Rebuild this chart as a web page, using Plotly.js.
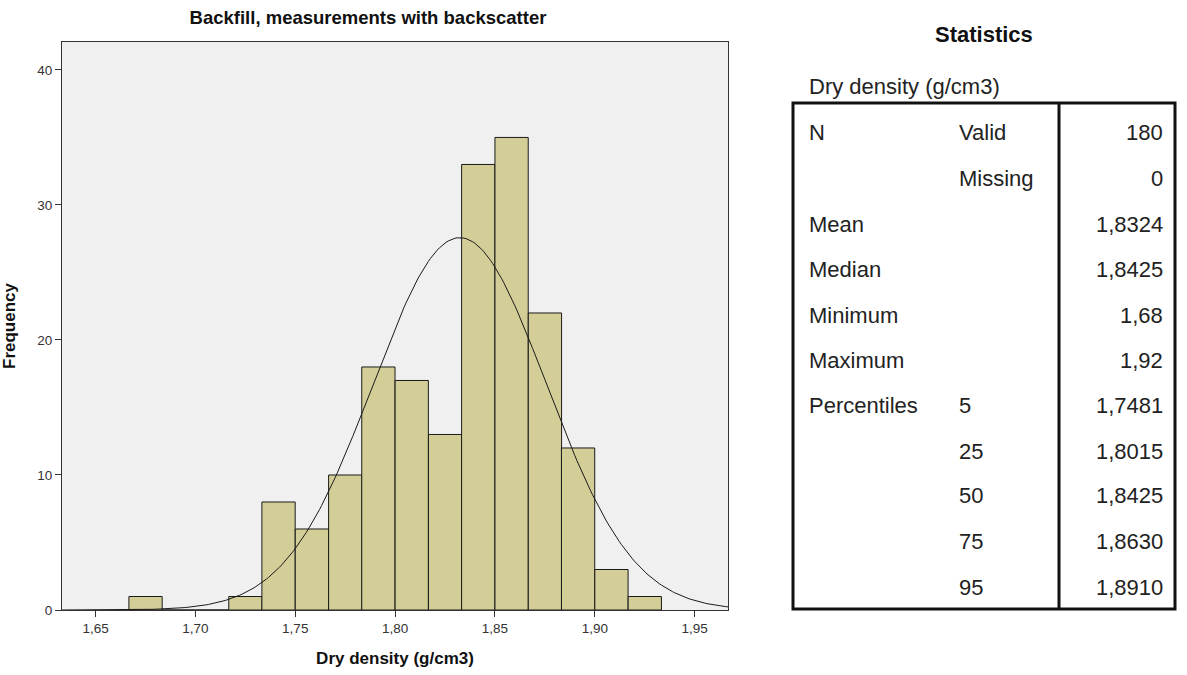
<!DOCTYPE html>
<html>
<head>
<meta charset="utf-8">
<script src="https://cdn.plot.ly/plotly-3.0.1.min.js"></script>
<style>
  html, body { margin: 0; padding: 0; background: #ffffff; }
  #chart { width: 1187px; height: 675px; }
</style>
</head>
<body>
<div id="chart"></div>
<script>
// Histogram bins of dry density (lower edge of each bin, g/cm3) and their counts
const binLower = [1.6667, 1.6833, 1.7000, 1.7167, 1.7333, 1.7500, 1.7667, 1.7833,
                  1.8000, 1.8167, 1.8333, 1.8500, 1.8667, 1.8833, 1.9000, 1.9167];
const binCounts = [1, 0, 0, 1, 8, 6, 10, 18, 17, 13, 33, 35, 22, 12, 3, 1];
const binWidth = 0.016667;

// Fitted normal curve parameters
const sampleN = 180;
const sampleMean = 1.8324;
const sampleSD = 0.0434;

// Axis ticks
const xTicks = [1.65, 1.70, 1.75, 1.80, 1.85, 1.90, 1.95];
const yTicks = [0, 10, 20, 30, 40];

// Statistics table contents
const statTitle = "Statistics";
const statVariable = "Dry density (g/cm3)";
const statLabels = ["N", "", "Mean", "Median", "Minimum", "Maximum", "Percentiles", "", "", "", ""];
const statSubLabels = ["Valid", "Missing", "", "", "", "", "5", "25", "50", "75", "95"];
const statValues = ["180", "0", "1,8324", "1,8425", "1,68", "1,92", "1,7481", "1,8015", "1,8425", "1,8630", "1,8910"];

// Layout geometry (pixels)
const W = 1187, H = 675;
const M = { l: 62, r: 459, t: 42, b: 65 };
const plotW = W - M.l - M.r, plotH = H - M.t - M.b;
const px = x => (x - M.l) / plotW;          // page x -> paper x
const py = y => (H - M.b - y) / plotH;      // page y -> paper y

const xRange = [1.6332, 1.9667];
const yRange = [0, 42.07];

// Normal density scaled to histogram counts
const curveX = [], curveY = [];
const steps = 300;
for (let i = 0; i <= steps; i++) {
  const x = xRange[0] + (xRange[1] - xRange[0]) * i / steps;
  const z = (x - sampleMean) / sampleSD;
  curveX.push(x);
  curveY.push(sampleN * binWidth * Math.exp(-0.5 * z * z) / (sampleSD * Math.sqrt(2 * Math.PI)));
}

const bars = {
  type: 'bar',
  x: binLower.map(v => v + binWidth / 2),
  y: binCounts,
  width: binWidth,
  marker: { color: '#d3ce97', line: { color: '#1a1a1a', width: 1 } },
  hoverinfo: 'x+y',
  showlegend: false
};

const curve = {
  type: 'scatter',
  mode: 'lines',
  x: curveX,
  y: curveY,
  line: { color: '#1a1a1a', width: 1 },
  hoverinfo: 'skip',
  showlegend: false
};

// Table drawing
const FAMILY = '"Liberation Sans", Arial, sans-serif';
const tableFont = { family: FAMILY, size: 22, color: '#222222' };
const rowY = [133, 179, 224, 269, 315, 360, 405, 451, 496, 541, 587];
const annotations = [];
const shapes = [];

annotations.push({
  xref: 'paper', yref: 'paper', x: px(984), y: py(34), xanchor: 'center', yanchor: 'middle',
  text: '<b>' + statTitle + '</b>', showarrow: false,
  font: { family: FAMILY, size: 22, color: '#111111' }
});
annotations.push({
  xref: 'paper', yref: 'paper', x: px(807), y: py(87), xanchor: 'left', yanchor: 'middle',
  text: statVariable, showarrow: false, font: tableFont
});
rowY.forEach((yy, i) => {
  if (statLabels[i]) annotations.push({
    xref: 'paper', yref: 'paper', x: px(807), y: py(yy), xanchor: 'left', yanchor: 'middle',
    text: statLabels[i], showarrow: false, font: tableFont
  });
  if (statSubLabels[i]) annotations.push({
    xref: 'paper', yref: 'paper', x: px(957), y: py(yy), xanchor: 'left', yanchor: 'middle',
    text: statSubLabels[i], showarrow: false, font: tableFont
  });
  annotations.push({
    xref: 'paper', yref: 'paper', x: px(1165), y: py(yy), xanchor: 'right', yanchor: 'middle',
    text: statValues[i], showarrow: false, font: tableFont
  });
});

shapes.push({
  type: 'rect', xref: 'paper', yref: 'paper',
  x0: px(793), x1: px(1175), y0: py(609), y1: py(103),
  line: { color: '#111111', width: 3 }, fillcolor: 'rgba(0,0,0,0)'
});
shapes.push({
  type: 'line', xref: 'paper', yref: 'paper',
  x0: px(1059), x1: px(1059), y0: py(609), y1: py(103),
  line: { color: '#111111', width: 3 }
});

const axisFont = { family: FAMILY, size: 13.5, color: '#333333' };
const layout = {
  width: W, height: H,
  margin: M,
  paper_bgcolor: '#ffffff',
  plot_bgcolor: '#f0f0f0',
  separators: ',.',
  bargap: 0,
  title: {
    text: '<b>Backfill, measurements with backscatter</b>',
    x: px(368), xref: 'paper', xanchor: 'center',
    y: 1 - 18 / H, yref: 'container', yanchor: 'middle',
    font: { family: FAMILY, size: 18.5, color: '#111111' }
  },
  xaxis: {
    range: xRange, tickvals: xTicks, tickformat: '.2f',
    ticks: 'outside', ticklen: 6, tickcolor: '#333333', tickwidth: 1,
    showline: true, mirror: true, linecolor: '#333333', linewidth: 1,
    showgrid: false, zeroline: false, tickfont: axisFont,
    title: { text: '<b>Dry density (g/cm3)</b>', standoff: 16,
             font: { family: FAMILY, size: 17, color: '#111111' } }
  },
  yaxis: {
    range: yRange, tickvals: yTicks,
    ticks: 'outside', ticklen: 6, tickcolor: '#333333', tickwidth: 1,
    showline: true, mirror: true, linecolor: '#333333', linewidth: 1,
    showgrid: false, zeroline: false, tickfont: axisFont,
    title: { text: '<b>Frequency</b>', standoff: 18,
             font: { family: FAMILY, size: 17, color: '#111111' } }
  },
  annotations: annotations,
  shapes: shapes
};

Plotly.newPlot('chart', [bars, curve], layout, { staticPlot: true, displayModeBar: false });
</script>
</body>
</html>
